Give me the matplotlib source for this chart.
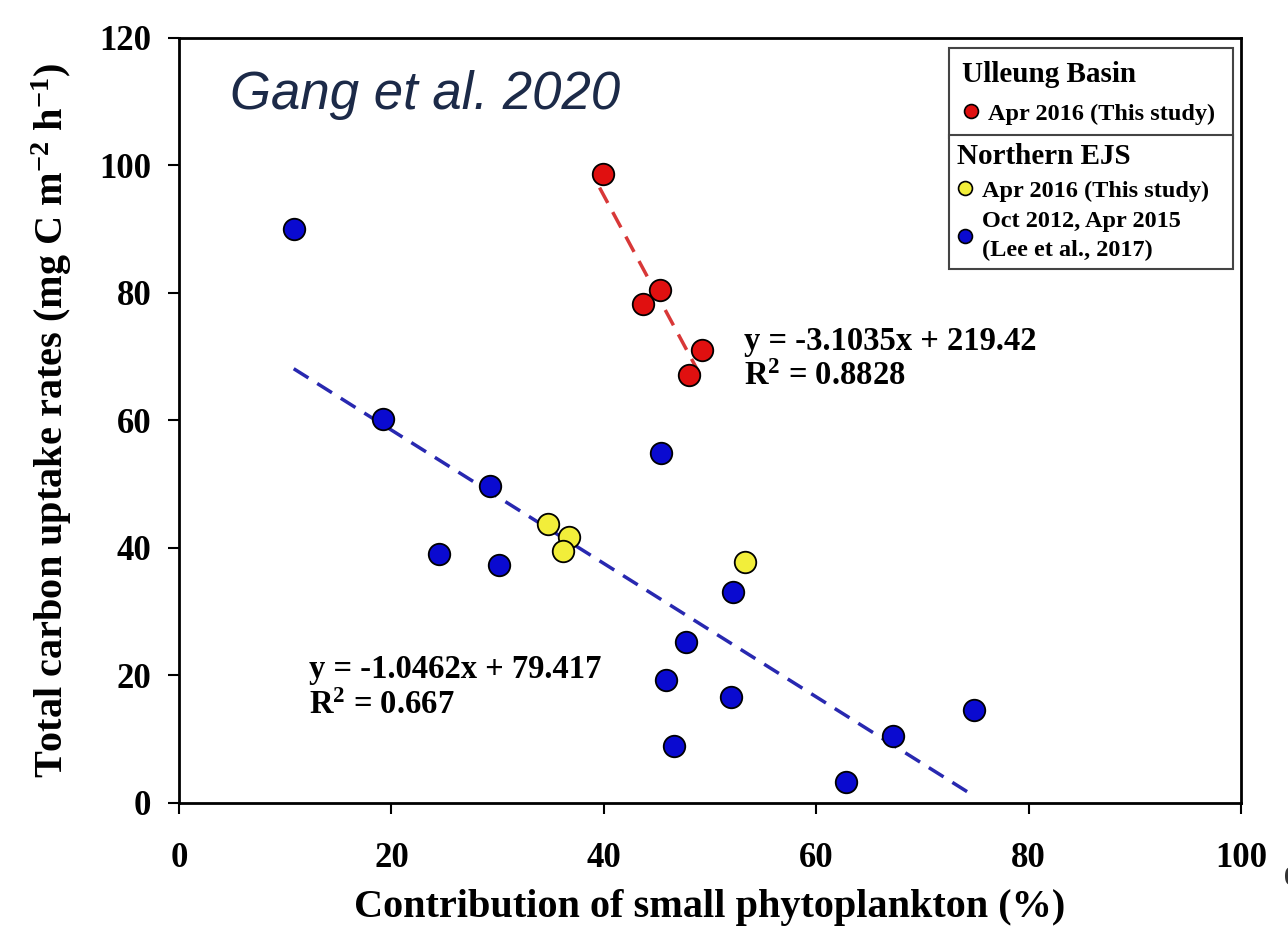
import numpy as np
import matplotlib.pyplot as plt
from matplotlib.lines import Line2D

# Ulleung Basin, Apr 2016 (this study)
red_x = [39.9, 43.7, 45.3, 48.0, 49.2]
red_y = [98.7, 78.2, 80.4, 67.1, 71.0]

# Northern EJS, Apr 2016 (this study)
yel_x = [34.7, 36.7, 36.2, 53.3]
yel_y = [43.7, 41.7, 39.5, 37.8]

# Northern EJS, Oct 2012 / Apr 2015 (Lee et al., 2017)
blu_x = [10.8, 19.2, 29.3, 24.5, 30.1, 45.4, 52.2, 47.7, 45.9, 52.0, 46.6, 62.8, 67.2, 74.9]
blu_y = [90.0, 60.3, 49.7, 39.0, 37.3, 54.9, 33.1, 25.2, 19.3, 16.6, 8.9, 3.3, 10.5, 14.6]

# regression lines (from the figure)
red_fit = (-3.1035, 219.42)
red_range = [39.6, 49.3]
blu_fit = (-1.0462, 79.417)
blu_range = [10.8, 75.0]

serif = ['Liberation Serif', 'DejaVu Serif']
plt.rcParams['font.family'] = serif
plt.rcParams['font.weight'] = 'bold'
plt.rcParams['mathtext.fontset'] = 'custom'
plt.rcParams['mathtext.rm'] = 'Liberation Serif:bold'
plt.rcParams['mathtext.it'] = 'Liberation Serif:italic:bold'
plt.rcParams['mathtext.bf'] = 'Liberation Serif:bold'

fig = plt.figure(figsize=(12.88, 9.35), dpi=100)
ax = fig.add_axes([0.139, 0.1412, 0.8245, 0.8182])

c_red = '#e01010'
c_yel = '#f2ee3a'
c_blu = '#0a0ad0'

# fit lines
xr = np.array(red_range)
ax.plot(xr, red_fit[0] * xr + red_fit[1], '--', color='#d83838', lw=2.5, dashes=(5, 3), zorder=2)
xb = np.array(blu_range)
ax.plot(xb, blu_fit[0] * xb + blu_fit[1], '--', color='#2828b0', lw=2.5, dashes=(5, 3), zorder=2)

ms = 15.5
ax.plot(blu_x, blu_y, 'o', color=c_blu, mec='black', mew=1.3, ms=ms, zorder=3)
ax.plot(yel_x, yel_y, 'o', color=c_yel, mec='black', mew=1.3, ms=ms, zorder=3)
ax.plot(red_x, red_y, 'o', color=c_red, mec='black', mew=1.3, ms=ms, zorder=3)

ax.set_xlim(0, 100)
ax.set_ylim(0, 120)
ax.set_xticks([0, 20, 40, 60, 80, 100])
ax.set_yticks([0, 20, 40, 60, 80, 100, 120])
ax.tick_params(axis='both', direction='out', length=8, width=1.5, labelsize=25)
ax.tick_params(axis='x', pad=20)
ax.tick_params(axis='y', pad=12)
for s in ax.spines.values():
    s.set_linewidth(2)

ax.set_xlabel('Contribution of small phytoplankton (%)', fontsize=29, fontweight='bold', labelpad=10)
ax.set_ylabel('Total carbon uptake rates (mg C m$^{-2}$ h$^{-1}$)', fontsize=29, fontweight='bold', labelpad=18)

# regression equations
ax.text(53.2, 71.0, 'y = -3.1035x + 219.42', fontsize=23.5, fontweight='bold')
ax.text(53.2, 65.6, 'R$^{2}$ = 0.8828', fontsize=23.5, fontweight='bold')
ax.text(12.2, 19.6, 'y = -1.0462x + 79.417', fontsize=23.5, fontweight='bold')
ax.text(12.2, 13.9, 'R$^{2}$ = 0.667', fontsize=23.5, fontweight='bold')

ax.text(0.048, 0.925, 'Gang et al. 2020', transform=ax.transAxes, fontsize=38,
        family='Liberation Sans', style='italic', fontweight='normal', color='#1c2a48', va='center')

# legend, two stacked boxes
def handle(c):
    return Line2D([], [], marker='o', ls='', color=c, mec='black', mew=1.2, ms=10)

common = dict(loc='upper left', mode='expand', borderaxespad=0, fancybox=False,
              edgecolor='#444444', framealpha=1,
              prop={'family': serif, 'weight': 'bold', 'size': 17.5}, handletextpad=0.35,
              handlelength=0.7, alignment='left')

leg1 = ax.legend([handle(c_red)], ['Apr 2016 (This study)'], title='Ulleung Basin',
                 bbox_to_anchor=(0.725, 0.0, 0.2674, 0.987),
                 borderpad=0.55, labelspacing=0.6, **common)
leg1.get_title().set_fontsize(21)
leg1.get_title().set_fontweight('bold')
leg1.get_frame().set_linewidth(1.5)
ax.add_artist(leg1)

leg2 = ax.legend([handle(c_yel), handle(c_blu)],
                 ['Apr 2016 (This study)', 'Oct 2012, Apr 2015\n(Lee et al., 2017)'],
                 title='Northern EJS',
                 bbox_to_anchor=(0.725, 0.0, 0.2674, 0.873),
                 borderpad=0.32, labelspacing=0.4, **common)
leg2.get_title().set_fontsize(21)
leg2.get_title().set_fontweight('bold')
leg2.get_frame().set_linewidth(1.5)
for t in leg2.get_texts():
    t.set_linespacing(1.45)

fig.text(0.997, 0.06, '0', fontsize=20, ha='left', va='center', color='#333333')

fig.savefig('out.png', dpi=100)
